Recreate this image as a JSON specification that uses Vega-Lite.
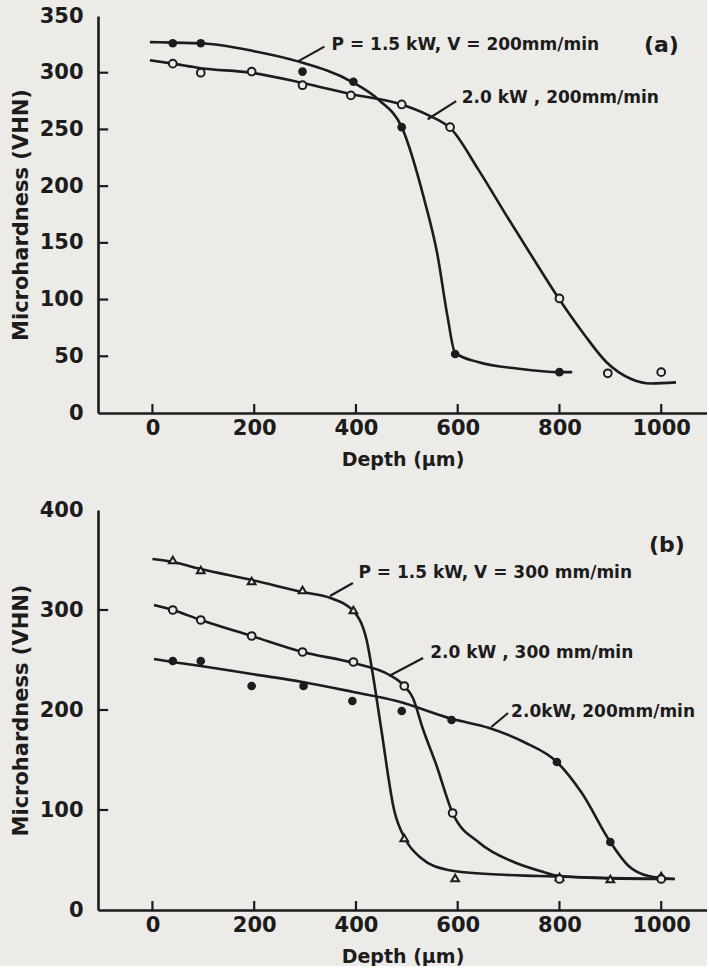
{
  "$schema": "https://vega.github.io/schema/vega-lite/v6.json",
  "background": "#ecebe8",
  "padding": {"left": 10, "top": 5, "right": 0, "bottom": 0},
  "spacing": 30,
  "config": {
    "view": {"stroke": null},
    "font": "DejaVu Sans",
    "axis": {
      "grid": false,
      "ticks": false,
      "domainColor": "#1c1c1c",
      "domainWidth": 2.6,
      "labelColor": "#1c1c1c",
      "labelFont": "DejaVu Sans",
      "labelFontSize": 21,
      "labelFontWeight": "bold",
      "titleColor": "#1c1c1c",
      "titleFont": "DejaVu Sans",
      "titleFontWeight": "bold"
    }
  },
  "datasets": {
    "segments": [
      {"panel": "a", "x": 286, "y": 310, "x2": 338, "y2": 323},
      {"panel": "a", "x": 541, "y": 259, "x2": 597, "y2": 275},
      {"panel": "a", "x": 0, "y": 0, "x2": 0, "y2": 8},
      {"panel": "a", "x": 200, "y": 0, "x2": 200, "y2": 8},
      {"panel": "a", "x": 400, "y": 0, "x2": 400, "y2": 8},
      {"panel": "a", "x": 600, "y": 0, "x2": 600, "y2": 8},
      {"panel": "a", "x": 800, "y": 0, "x2": 800, "y2": 8},
      {"panel": "a", "x": 1000, "y": 0, "x2": 1000, "y2": 8},
      {"panel": "a", "x": -107, "y": 50, "x2": -87, "y2": 50},
      {"panel": "a", "x": -107, "y": 100, "x2": -87, "y2": 100},
      {"panel": "a", "x": -107, "y": 150, "x2": -87, "y2": 150},
      {"panel": "a", "x": -107, "y": 200, "x2": -87, "y2": 200},
      {"panel": "a", "x": -107, "y": 250, "x2": -87, "y2": 250},
      {"panel": "a", "x": -107, "y": 300, "x2": -87, "y2": 300},
      {"panel": "b", "x": 349, "y": 314, "x2": 394, "y2": 327},
      {"panel": "b", "x": 465, "y": 234, "x2": 532, "y2": 252},
      {"panel": "b", "x": 666, "y": 183, "x2": 699, "y2": 197},
      {"panel": "b", "x": 0, "y": 0, "x2": 0, "y2": 9},
      {"panel": "b", "x": 200, "y": 0, "x2": 200, "y2": 9},
      {"panel": "b", "x": 400, "y": 0, "x2": 400, "y2": 9},
      {"panel": "b", "x": 600, "y": 0, "x2": 600, "y2": 9},
      {"panel": "b", "x": 800, "y": 0, "x2": 800, "y2": 9},
      {"panel": "b", "x": 1000, "y": 0, "x2": 1000, "y2": 9},
      {"panel": "b", "x": -107, "y": 100, "x2": -87, "y2": 100},
      {"panel": "b", "x": -107, "y": 200, "x2": -87, "y2": 200},
      {"panel": "b", "x": -107, "y": 300, "x2": -87, "y2": 300}
    ],
    "pts": [
      {"panel": "a", "power": 1.5, "speed": 200, "depth": 40, "hardness": 326},
      {"panel": "a", "power": 1.5, "speed": 200, "depth": 95, "hardness": 326},
      {"panel": "a", "power": 1.5, "speed": 200, "depth": 295, "hardness": 301},
      {"panel": "a", "power": 1.5, "speed": 200, "depth": 395, "hardness": 292},
      {"panel": "a", "power": 1.5, "speed": 200, "depth": 490, "hardness": 252},
      {"panel": "a", "power": 1.5, "speed": 200, "depth": 595, "hardness": 52},
      {"panel": "a", "power": 1.5, "speed": 200, "depth": 800, "hardness": 36},
      {"panel": "a", "power": 2.0, "speed": 200, "depth": 40, "hardness": 308},
      {"panel": "a", "power": 2.0, "speed": 200, "depth": 95, "hardness": 300},
      {"panel": "a", "power": 2.0, "speed": 200, "depth": 195, "hardness": 301},
      {"panel": "a", "power": 2.0, "speed": 200, "depth": 295, "hardness": 289},
      {"panel": "a", "power": 2.0, "speed": 200, "depth": 390, "hardness": 280},
      {"panel": "a", "power": 2.0, "speed": 200, "depth": 490, "hardness": 272},
      {"panel": "a", "power": 2.0, "speed": 200, "depth": 585, "hardness": 252},
      {"panel": "a", "power": 2.0, "speed": 200, "depth": 800, "hardness": 101},
      {"panel": "a", "power": 2.0, "speed": 200, "depth": 895, "hardness": 35},
      {"panel": "a", "power": 2.0, "speed": 200, "depth": 1000, "hardness": 36},
      {"panel": "b", "power": 1.5, "speed": 300, "depth": 40, "hardness": 350},
      {"panel": "b", "power": 1.5, "speed": 300, "depth": 95, "hardness": 340},
      {"panel": "b", "power": 1.5, "speed": 300, "depth": 195, "hardness": 329},
      {"panel": "b", "power": 1.5, "speed": 300, "depth": 295, "hardness": 320},
      {"panel": "b", "power": 1.5, "speed": 300, "depth": 395, "hardness": 300},
      {"panel": "b", "power": 1.5, "speed": 300, "depth": 495, "hardness": 72},
      {"panel": "b", "power": 1.5, "speed": 300, "depth": 595, "hardness": 32},
      {"panel": "b", "power": 1.5, "speed": 300, "depth": 800, "hardness": 33},
      {"panel": "b", "power": 1.5, "speed": 300, "depth": 900, "hardness": 31},
      {"panel": "b", "power": 1.5, "speed": 300, "depth": 1000, "hardness": 34},
      {"panel": "b", "power": 2.0, "speed": 300, "depth": 40, "hardness": 300},
      {"panel": "b", "power": 2.0, "speed": 300, "depth": 95, "hardness": 290},
      {"panel": "b", "power": 2.0, "speed": 300, "depth": 195, "hardness": 274},
      {"panel": "b", "power": 2.0, "speed": 300, "depth": 295, "hardness": 258},
      {"panel": "b", "power": 2.0, "speed": 300, "depth": 395, "hardness": 248},
      {"panel": "b", "power": 2.0, "speed": 300, "depth": 495, "hardness": 224},
      {"panel": "b", "power": 2.0, "speed": 300, "depth": 590, "hardness": 97},
      {"panel": "b", "power": 2.0, "speed": 300, "depth": 800, "hardness": 31},
      {"panel": "b", "power": 2.0, "speed": 300, "depth": 1000, "hardness": 31},
      {"panel": "b", "power": 2.0, "speed": 200, "depth": 40, "hardness": 249},
      {"panel": "b", "power": 2.0, "speed": 200, "depth": 95, "hardness": 249},
      {"panel": "b", "power": 2.0, "speed": 200, "depth": 195, "hardness": 224},
      {"panel": "b", "power": 2.0, "speed": 200, "depth": 297, "hardness": 224},
      {"panel": "b", "power": 2.0, "speed": 200, "depth": 393, "hardness": 209},
      {"panel": "b", "power": 2.0, "speed": 200, "depth": 490, "hardness": 199},
      {"panel": "b", "power": 2.0, "speed": 200, "depth": 588, "hardness": 190},
      {"panel": "b", "power": 2.0, "speed": 200, "depth": 795, "hardness": 148},
      {"panel": "b", "power": 2.0, "speed": 200, "depth": 900, "hardness": 68}
    ],
    "curves": [
      {"panel": "a", "power": 1.5, "speed": 200, "depth": -5, "hardness": 327},
      {"panel": "a", "power": 1.5, "speed": 200, "depth": 40, "hardness": 326.5},
      {"panel": "a", "power": 1.5, "speed": 200, "depth": 95, "hardness": 326},
      {"panel": "a", "power": 1.5, "speed": 200, "depth": 200, "hardness": 319},
      {"panel": "a", "power": 1.5, "speed": 200, "depth": 286, "hardness": 310},
      {"panel": "a", "power": 1.5, "speed": 200, "depth": 392, "hardness": 292},
      {"panel": "a", "power": 1.5, "speed": 200, "depth": 445, "hardness": 276},
      {"panel": "a", "power": 1.5, "speed": 200, "depth": 490, "hardness": 252},
      {"panel": "a", "power": 1.5, "speed": 200, "depth": 535, "hardness": 187},
      {"panel": "a", "power": 1.5, "speed": 200, "depth": 560, "hardness": 140},
      {"panel": "a", "power": 1.5, "speed": 200, "depth": 580, "hardness": 85},
      {"panel": "a", "power": 1.5, "speed": 200, "depth": 595, "hardness": 53},
      {"panel": "a", "power": 1.5, "speed": 200, "depth": 640, "hardness": 45},
      {"panel": "a", "power": 1.5, "speed": 200, "depth": 720, "hardness": 39},
      {"panel": "a", "power": 1.5, "speed": 200, "depth": 800, "hardness": 36},
      {"panel": "a", "power": 1.5, "speed": 200, "depth": 825, "hardness": 36},
      {"panel": "a", "power": 2.0, "speed": 200, "depth": -5, "hardness": 311},
      {"panel": "a", "power": 2.0, "speed": 200, "depth": 40, "hardness": 308},
      {"panel": "a", "power": 2.0, "speed": 200, "depth": 95, "hardness": 304},
      {"panel": "a", "power": 2.0, "speed": 200, "depth": 195, "hardness": 300},
      {"panel": "a", "power": 2.0, "speed": 200, "depth": 295, "hardness": 291},
      {"panel": "a", "power": 2.0, "speed": 200, "depth": 392, "hardness": 281},
      {"panel": "a", "power": 2.0, "speed": 200, "depth": 490, "hardness": 272},
      {"panel": "a", "power": 2.0, "speed": 200, "depth": 540, "hardness": 263},
      {"panel": "a", "power": 2.0, "speed": 200, "depth": 588, "hardness": 250},
      {"panel": "a", "power": 2.0, "speed": 200, "depth": 640, "hardness": 215},
      {"panel": "a", "power": 2.0, "speed": 200, "depth": 700, "hardness": 171},
      {"panel": "a", "power": 2.0, "speed": 200, "depth": 760, "hardness": 128},
      {"panel": "a", "power": 2.0, "speed": 200, "depth": 800, "hardness": 100},
      {"panel": "a", "power": 2.0, "speed": 200, "depth": 849, "hardness": 69},
      {"panel": "a", "power": 2.0, "speed": 200, "depth": 892, "hardness": 45},
      {"panel": "a", "power": 2.0, "speed": 200, "depth": 941, "hardness": 30},
      {"panel": "a", "power": 2.0, "speed": 200, "depth": 980, "hardness": 26},
      {"panel": "a", "power": 2.0, "speed": 200, "depth": 1029, "hardness": 27},
      {"panel": "b", "power": 1.5, "speed": 300, "depth": 0, "hardness": 351},
      {"panel": "b", "power": 1.5, "speed": 300, "depth": 40, "hardness": 348},
      {"panel": "b", "power": 1.5, "speed": 300, "depth": 95, "hardness": 341},
      {"panel": "b", "power": 1.5, "speed": 300, "depth": 195, "hardness": 330},
      {"panel": "b", "power": 1.5, "speed": 300, "depth": 295, "hardness": 318},
      {"panel": "b", "power": 1.5, "speed": 300, "depth": 350, "hardness": 312},
      {"panel": "b", "power": 1.5, "speed": 300, "depth": 393, "hardness": 300},
      {"panel": "b", "power": 1.5, "speed": 300, "depth": 421, "hardness": 270},
      {"panel": "b", "power": 1.5, "speed": 300, "depth": 434, "hardness": 233},
      {"panel": "b", "power": 1.5, "speed": 300, "depth": 450, "hardness": 180},
      {"panel": "b", "power": 1.5, "speed": 300, "depth": 475, "hardness": 100},
      {"panel": "b", "power": 1.5, "speed": 300, "depth": 498, "hardness": 70},
      {"panel": "b", "power": 1.5, "speed": 300, "depth": 528, "hardness": 52},
      {"panel": "b", "power": 1.5, "speed": 300, "depth": 581, "hardness": 40},
      {"panel": "b", "power": 1.5, "speed": 300, "depth": 660, "hardness": 36},
      {"panel": "b", "power": 1.5, "speed": 300, "depth": 758, "hardness": 34},
      {"panel": "b", "power": 1.5, "speed": 300, "depth": 900, "hardness": 32},
      {"panel": "b", "power": 1.5, "speed": 300, "depth": 1025, "hardness": 31},
      {"panel": "b", "power": 2.0, "speed": 300, "depth": 3, "hardness": 305},
      {"panel": "b", "power": 2.0, "speed": 300, "depth": 40, "hardness": 300},
      {"panel": "b", "power": 2.0, "speed": 300, "depth": 95, "hardness": 290},
      {"panel": "b", "power": 2.0, "speed": 300, "depth": 195, "hardness": 274},
      {"panel": "b", "power": 2.0, "speed": 300, "depth": 295, "hardness": 258},
      {"panel": "b", "power": 2.0, "speed": 300, "depth": 395, "hardness": 247},
      {"panel": "b", "power": 2.0, "speed": 300, "depth": 466, "hardness": 235},
      {"panel": "b", "power": 2.0, "speed": 300, "depth": 495, "hardness": 224},
      {"panel": "b", "power": 2.0, "speed": 300, "depth": 512, "hardness": 212},
      {"panel": "b", "power": 2.0, "speed": 300, "depth": 531, "hardness": 182},
      {"panel": "b", "power": 2.0, "speed": 300, "depth": 558, "hardness": 145},
      {"panel": "b", "power": 2.0, "speed": 300, "depth": 590, "hardness": 97},
      {"panel": "b", "power": 2.0, "speed": 300, "depth": 643, "hardness": 67},
      {"panel": "b", "power": 2.0, "speed": 300, "depth": 710, "hardness": 48},
      {"panel": "b", "power": 2.0, "speed": 300, "depth": 762, "hardness": 39},
      {"panel": "b", "power": 2.0, "speed": 300, "depth": 800, "hardness": 34},
      {"panel": "b", "power": 2.0, "speed": 300, "depth": 900, "hardness": 31.5},
      {"panel": "b", "power": 2.0, "speed": 300, "depth": 1000, "hardness": 31},
      {"panel": "b", "power": 2.0, "speed": 200, "depth": 3, "hardness": 251},
      {"panel": "b", "power": 2.0, "speed": 200, "depth": 40, "hardness": 248},
      {"panel": "b", "power": 2.0, "speed": 200, "depth": 95, "hardness": 244},
      {"panel": "b", "power": 2.0, "speed": 200, "depth": 195, "hardness": 236},
      {"panel": "b", "power": 2.0, "speed": 200, "depth": 295, "hardness": 228},
      {"panel": "b", "power": 2.0, "speed": 200, "depth": 395, "hardness": 218},
      {"panel": "b", "power": 2.0, "speed": 200, "depth": 480, "hardness": 209},
      {"panel": "b", "power": 2.0, "speed": 200, "depth": 590, "hardness": 191},
      {"panel": "b", "power": 2.0, "speed": 200, "depth": 662, "hardness": 182},
      {"panel": "b", "power": 2.0, "speed": 200, "depth": 730, "hardness": 168},
      {"panel": "b", "power": 2.0, "speed": 200, "depth": 795, "hardness": 148},
      {"panel": "b", "power": 2.0, "speed": 200, "depth": 844, "hardness": 117},
      {"panel": "b", "power": 2.0, "speed": 200, "depth": 900, "hardness": 68},
      {"panel": "b", "power": 2.0, "speed": 200, "depth": 936, "hardness": 44},
      {"panel": "b", "power": 2.0, "speed": 200, "depth": 975, "hardness": 34},
      {"panel": "b", "power": 2.0, "speed": 200, "depth": 1027, "hardness": 31}
    ],
    "labels": [
      {"panel": "a", "x": 352, "y": 324, "text": "P = 1.5 kW, V = 200mm/min"},
      {"panel": "a", "x": 608, "y": 278, "text": "2.0 kW , 200mm/min"},
      {"panel": "b", "x": 405, "y": 337, "text": "P = 1.5 kW, V = 300 mm/min"},
      {"panel": "b", "x": 546, "y": 257, "text": "2.0 kW , 300 mm/min"},
      {"panel": "b", "x": 705, "y": 198, "text": "2.0kW, 200mm/min"}
    ],
    "tags": [
      {"panel": "a", "x": 966, "y": 324, "text": "(a)"},
      {"panel": "b", "x": 976, "y": 365, "text": "(b)"}
    ]
  },
  "vconcat": [
    {
      "width": 609,
      "height": 397,
      "encoding": {
        "x": {"type": "quantitative", "scale": {"domain": [-107, 1090], "nice": false, "zero": false}},
        "y": {"type": "quantitative", "scale": {"domain": [0, 350], "nice": false}}
      },
      "layer": [
        {
          "data": {"name": "curves"},
          "transform": [{"filter": "datum.panel === 'a'"}],
          "mark": {"type": "line", "interpolate": "monotone", "color": "#1c1c1c", "strokeWidth": 2.6},
          "encoding": {
            "x": {"field": "depth", "type": "quantitative", "title": "Depth (μm)",
              "axis": {"values": [0, 200, 400, 600, 800, 1000], "format": "d", "titleFontSize": 19, "labelPadding": 4, "titlePadding": 12}},
            "y": {"field": "hardness", "type": "quantitative", "title": "Microhardness (VHN)",
              "axis": {"values": [0, 50, 100, 150, 200, 250, 300, 350], "titleFontSize": 21, "labelPadding": 15, "titlePadding": 8}},
            "detail": [{"field": "power"}, {"field": "speed"}]
          }
        },
        {
          "mark": {"type": "rule", "color": "#1c1c1c", "strokeWidth": 2.6},
          "encoding": {"y": {"datum": 350}}
        },
        {
          "data": {"name": "segments"},
          "transform": [{"filter": "datum.panel === 'a'"}],
          "mark": {"type": "rule", "color": "#1c1c1c", "strokeWidth": 2.2},
          "encoding": {"x": {"field": "x"}, "y": {"field": "y"}, "x2": {"field": "x2"}, "y2": {"field": "y2"}}
        },
        {
          "data": {"name": "pts"},
          "transform": [{"filter": "datum.panel === 'a' && datum.power === 1.5"}],
          "mark": {"type": "point", "shape": "circle", "filled": true, "size": 75, "color": "#1c1c1c", "opacity": 1},
          "encoding": {"x": {"field": "depth"}, "y": {"field": "hardness"}}
        },
        {
          "data": {"name": "pts"},
          "transform": [{"filter": "datum.panel === 'a' && datum.power === 2"}],
          "mark": {"type": "point", "shape": "circle", "size": 60, "fill": "#ecebe8", "fillOpacity": 1, "stroke": "#1c1c1c", "strokeWidth": 2, "opacity": 1},
          "encoding": {"x": {"field": "depth"}, "y": {"field": "hardness"}}
        },
        {
          "data": {"name": "labels"},
          "transform": [{"filter": "datum.panel === 'a'"}],
          "mark": {"type": "text", "align": "left", "baseline": "middle", "fontSize": 17, "fontWeight": "bold", "font": "DejaVu Sans", "color": "#1c1c1c"},
          "encoding": {"x": {"field": "x"}, "y": {"field": "y"}, "text": {"field": "text"}}
        },
        {
          "data": {"name": "tags"},
          "transform": [{"filter": "datum.panel === 'a'"}],
          "mark": {"type": "text", "align": "left", "baseline": "middle", "fontSize": 22, "fontWeight": "bold", "font": "DejaVu Sans", "color": "#1c1c1c"},
          "encoding": {"x": {"field": "x"}, "y": {"field": "y"}, "text": {"field": "text"}}
        }
      ]
    },
    {
      "width": 609,
      "height": 400,
      "encoding": {
        "x": {"type": "quantitative", "scale": {"domain": [-107, 1090], "nice": false, "zero": false}},
        "y": {"type": "quantitative", "scale": {"domain": [0, 400], "nice": false}}
      },
      "layer": [
        {
          "data": {"name": "curves"},
          "transform": [{"filter": "datum.panel === 'b'"}],
          "mark": {"type": "line", "interpolate": "monotone", "color": "#1c1c1c", "strokeWidth": 2.6},
          "encoding": {
            "x": {"field": "depth", "type": "quantitative", "title": "Depth (μm)",
              "axis": {"values": [0, 200, 400, 600, 800, 1000], "format": "d", "titleFontSize": 19, "labelPadding": 4, "titlePadding": 12}},
            "y": {"field": "hardness", "type": "quantitative", "title": "Microhardness (VHN)",
              "axis": {"values": [0, 100, 200, 300, 400], "titleFontSize": 21, "labelPadding": 15, "titlePadding": 8}},
            "detail": [{"field": "power"}, {"field": "speed"}]
          }
        },
        {
          "mark": {"type": "rule", "color": "#1c1c1c", "strokeWidth": 2.6},
          "encoding": {"y": {"datum": 400}}
        },
        {
          "data": {"name": "segments"},
          "transform": [{"filter": "datum.panel === 'b'"}],
          "mark": {"type": "rule", "color": "#1c1c1c", "strokeWidth": 2.2},
          "encoding": {"x": {"field": "x"}, "y": {"field": "y"}, "x2": {"field": "x2"}, "y2": {"field": "y2"}}
        },
        {
          "data": {"name": "pts"},
          "transform": [{"filter": "datum.panel === 'b' && datum.power === 1.5"}],
          "mark": {"type": "point", "shape": "triangle-up", "size": 60, "fill": "#ecebe8", "fillOpacity": 1, "stroke": "#1c1c1c", "strokeWidth": 2, "opacity": 1},
          "encoding": {"x": {"field": "depth"}, "y": {"field": "hardness"}}
        },
        {
          "data": {"name": "pts"},
          "transform": [{"filter": "datum.panel === 'b' && datum.power === 2 && datum.speed === 300"}],
          "mark": {"type": "point", "shape": "circle", "size": 60, "fill": "#ecebe8", "fillOpacity": 1, "stroke": "#1c1c1c", "strokeWidth": 2, "opacity": 1},
          "encoding": {"x": {"field": "depth"}, "y": {"field": "hardness"}}
        },
        {
          "data": {"name": "pts"},
          "transform": [{"filter": "datum.panel === 'b' && datum.speed === 200"}],
          "mark": {"type": "point", "shape": "circle", "filled": true, "size": 75, "color": "#1c1c1c", "opacity": 1},
          "encoding": {"x": {"field": "depth"}, "y": {"field": "hardness"}}
        },
        {
          "data": {"name": "labels"},
          "transform": [{"filter": "datum.panel === 'b'"}],
          "mark": {"type": "text", "align": "left", "baseline": "middle", "fontSize": 17, "fontWeight": "bold", "font": "DejaVu Sans", "color": "#1c1c1c"},
          "encoding": {"x": {"field": "x"}, "y": {"field": "y"}, "text": {"field": "text"}}
        },
        {
          "data": {"name": "tags"},
          "transform": [{"filter": "datum.panel === 'b'"}],
          "mark": {"type": "text", "align": "left", "baseline": "middle", "fontSize": 22, "fontWeight": "bold", "font": "DejaVu Sans", "color": "#1c1c1c"},
          "encoding": {"x": {"field": "x"}, "y": {"field": "y"}, "text": {"field": "text"}}
        }
      ]
    }
  ]
}
